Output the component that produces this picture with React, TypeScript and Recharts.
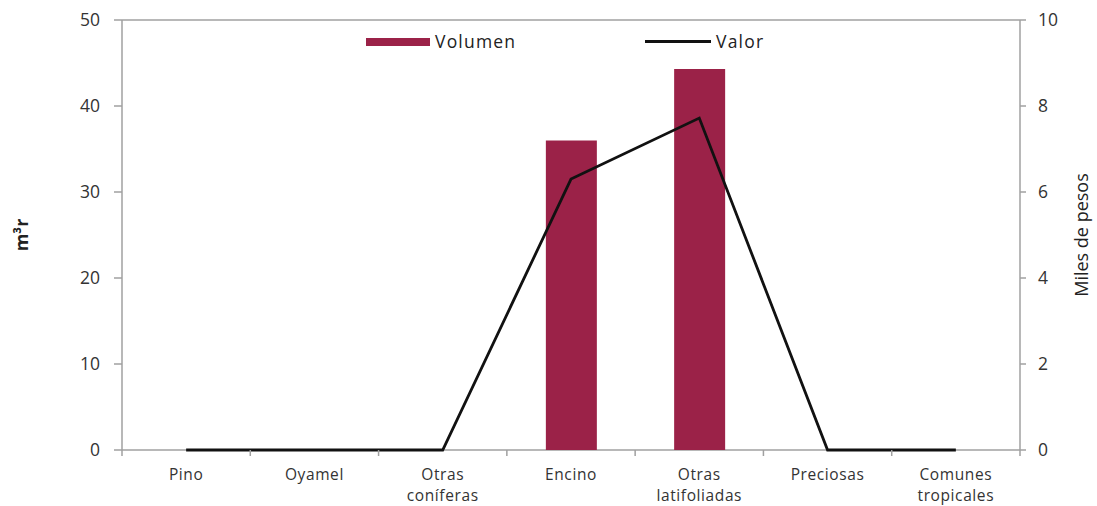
import { ComposedChart, Bar, Line, XAxis, YAxis, CartesianGrid } from 'recharts'

const categories = ['Pino', 'Oyamel', 'Otras\nconíferas', 'Encino', 'Otras\nlatifoliadas', 'Preciosas', 'Comunes\ntropicales']
const volumen = [0, 0, 0, 36.0, 44.3, 0, 0]
const valor = [0, 0, 0, 6.3, 7.72, 0, 0]
const leftTicks = [0, 10, 20, 30, 40, 50]
const rightTicks = [0, 2, 4, 6, 8, 10]

const data = categories.map((name, i) => ({ name, volumen: volumen[i], valor: valor[i] }))

const FONT = '"Open Sans", sans-serif'
const BAR = '#9b2248'
const AXIS = '#a0a0a0'

function CategoryTick(props: any) {
  const { x, y, payload, index } = props
  const half = payload?.offset ?? 64
  const lines = String(payload.value).split('\n')
  return (
    <g>
      <line x1={x - half} x2={x - half} y1={y - 8} y2={y - 2} stroke={AXIS} strokeWidth={1.5} />
      {index === categories.length - 1 ? (
        <line x1={x + half} x2={x + half} y1={y - 8} y2={y - 2} stroke={AXIS} strokeWidth={1.5} />
      ) : null}
      <text x={x} y={y + 22} textAnchor="middle" fontSize={15.5} letterSpacing={0.6} fill="#333" fontFamily={FONT}>
        {lines.map((l, i) => (
          <tspan key={i} x={x} dy={i === 0 ? 0 : 21}>
            {l}
          </tspan>
        ))}
      </text>
    </g>
  )
}

export default function App() {
  const legendText = { position: 'absolute' as const, top: 29, fontSize: 17.5, letterSpacing: 1.2, lineHeight: '24px' }
  return (
    <div style={{ position: 'absolute', left: 0, top: 0, width: 1097, height: 506, background: '#fff' }}>
      <ComposedChart
        width={1097}
        height={506}
        data={data}
        margin={{ top: 20, right: 0, bottom: 0, left: 0 }}
      >
        <CartesianGrid vertical={false} stroke={AXIS} strokeWidth={1.3} />
        <XAxis
          dataKey="name"
          height={56}
          interval={0}
          axisLine={false}
          tickLine={false}
          tick={<CategoryTick />}
        />
        <YAxis
          yAxisId="left"
          width={122}
          domain={[0, 50]}
          ticks={leftTicks}
          stroke={AXIS}
          strokeWidth={1.5}
          tickSize={8}
          tick={{ fill: '#333', fontSize: 17.5, fontFamily: FONT }}
          tickMargin={14}
          label={{
            value: 'm³r',
            angle: -90,
            position: 'insideLeft',
            offset: 22,
            style: { fill: '#222', fontSize: 18, fontWeight: 700, fontFamily: FONT, textAnchor: 'middle' },
          }}
        />
        <YAxis
          yAxisId="right"
          orientation="right"
          width={77}
          domain={[0, 10]}
          ticks={rightTicks}
          stroke={AXIS}
          strokeWidth={1.5}
          tickSize={6}
          tick={{ fill: '#333', fontSize: 17.5, fontFamily: FONT }}
          tickMargin={12}
          label={{
            value: 'Miles de pesos',
            angle: -90,
            position: 'insideRight',
            offset: 15,
            style: { fill: '#222', fontSize: 18, fontFamily: FONT, textAnchor: 'middle' },
          }}
        />
        <Bar yAxisId="left" dataKey="volumen" fill={BAR} barSize={51} isAnimationActive={false} />
        <Line
          yAxisId="right"
          type="linear"
          dataKey="valor"
          stroke="#111"
          strokeWidth={2.8}
          dot={false}
          isAnimationActive={false}
        />
      </ComposedChart>
      <div style={{ position: 'absolute', left: 0, top: 0, fontFamily: FONT, color: '#222' }}>
        <div style={{ position: 'absolute', left: 366, top: 38, width: 64, height: 8, background: BAR }} />
        <span style={{ ...legendText, left: 435 }}>Volumen</span>
        <div style={{ position: 'absolute', left: 645, top: 40, width: 66, height: 3, background: '#111' }} />
        <span style={{ ...legendText, left: 716 }}>Valor</span>
      </div>
    </div>
  )
}
